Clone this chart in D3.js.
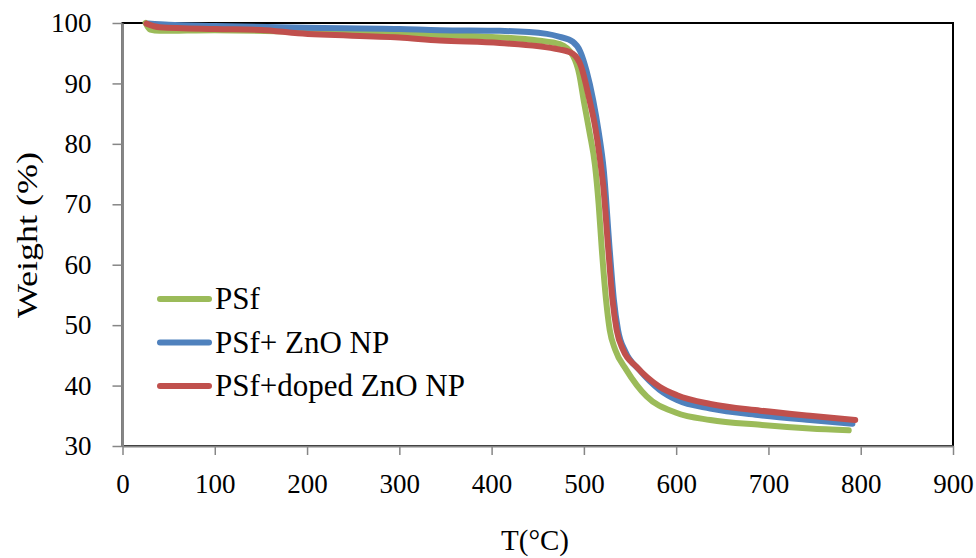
<!DOCTYPE html>
<html>
<head>
<meta charset="utf-8">
<script src="https://cdn.jsdelivr.net/npm/d3@7/dist/d3.min.js"></script>
<style>
  html, body { margin: 0; padding: 0; background: #fff; }
  svg { display: block; font-family: "Liberation Serif", "Times New Roman", serif; }
</style>
</head>
<body>
<svg id="chart" width="976" height="558"></svg>
<script>
// Thermogravimetric curves: temperature (°C) vs. remaining weight (%)
const xTicks = [0, 100, 200, 300, 400, 500, 600, 700, 800, 900];
const yTicks = [30, 40, 50, 60, 70, 80, 90, 100];

const seriesNames = ["PSf", "PSf+ ZnO NP", "PSf+doped ZnO NP"];

const psf = [
  [25, 100], [30, 98.9], [40, 98.7], [100, 98.8], [200, 98.5], [300, 98.2],
  [400, 97.7], [450, 97.1], [474, 96.5], [488, 94.6], [495, 91.5], [500, 87],
  [506, 82], [512, 76.5], [516, 70], [519.5, 62.4], [524, 54.2], [528, 49.2],
  [534, 45.9], [546, 42.6], [568, 38.2], [600, 35.5], [637, 34.3], [691, 33.5],
  [745, 32.9], [787, 32.6]
];

const psfZnO = [
  [28, 99.9], [50, 99.7], [100, 99.5], [200, 99.2], [300, 99.0], [344, 98.8],
  [409, 98.7], [460, 98.2], [474, 97.7], [488, 96.9], [496, 95.3], [503, 92],
  [510, 87.3], [516, 82], [521.5, 75.7], [528, 62.4], [532.5, 54.2], [537, 49.2],
  [545, 45.6], [560, 42.6], [582, 39.3], [601, 37.6], [637, 36.2], [691, 35.1],
  [745, 34.3], [791, 33.7]
];

const psfDoped = [
  [26, 99.9], [40, 99.3], [100, 99.0], [150, 98.85], [190, 98.3], [300, 97.6],
  [344, 97.1], [409, 96.7], [474, 95.6], [488, 94.9], [497, 92.8], [506, 87.3],
  [512, 83], [517, 78], [521, 73], [526.5, 62.4], [531, 54.2], [535.5, 49.2],
  [542.5, 45.9], [557, 43.1], [582, 39.8], [601, 38.4], [637, 36.95], [691, 35.85],
  [745, 35.0], [794, 34.3]
];

const seriesData = [psf, psfZnO, psfDoped];
const seriesColors = ["#9BBB59", "#4F81BD", "#C0504D"];

const svg = d3.select("#chart");
const plot = { left: 122.5, right: 953, top: 23, bottom: 446 };

const x = d3.scaleLinear().domain([0, 900]).range([plot.left, plot.right]);
const y = d3.scaleLinear().domain([30, 100]).range([plot.bottom, plot.top]);

const axisGray = "#868686";

// plot-area frame (top and right edges stay black)
svg.append("rect")
  .attr("x", plot.left).attr("y", plot.top)
  .attr("width", plot.right - plot.left).attr("height", plot.bottom - plot.top)
  .attr("fill", "none").attr("stroke", "#000").attr("stroke-width", 2);

// series lines
const line = d3.line()
  .x(d => x(d[0]))
  .y(d => y(d[1]))
  .curve(d3.curveMonotoneX);

svg.append("g").selectAll("path")
  .data(seriesData)
  .join("path")
  .attr("d", line)
  .attr("fill", "none")
  .attr("stroke", (d, i) => seriesColors[i])
  .attr("stroke-width", 6)
  .attr("stroke-linecap", "round")
  .attr("stroke-linejoin", "round");

// x axis
const xAxis = svg.append("g")
  .attr("transform", `translate(0,${plot.bottom})`)
  .call(d3.axisBottom(x).tickValues(xTicks).tickSize(9).tickPadding(19).tickSizeOuter(0));
xAxis.select(".domain").attr("stroke", axisGray).attr("stroke-width", 2);
xAxis.selectAll(".tick line").attr("stroke", axisGray).attr("stroke-width", 1.5);
xAxis.selectAll(".tick text")
  .attr("fill", "#000").attr("font-size", 27)
  .attr("font-family", "Liberation Serif, Times New Roman, serif");

// y axis
const yAxis = svg.append("g")
  .attr("transform", `translate(${plot.left},0)`)
  .call(d3.axisLeft(y).tickValues(yTicks).tickSize(10).tickPadding(21).tickSizeOuter(0));
yAxis.select(".domain").attr("stroke", axisGray).attr("stroke-width", 2);
yAxis.selectAll(".tick line").attr("stroke", axisGray).attr("stroke-width", 1.5);
yAxis.selectAll(".tick text")
  .attr("fill", "#000").attr("font-size", 27)
  .attr("font-family", "Liberation Serif, Times New Roman, serif");

// axis titles
svg.append("text")
  .attr("x", 535).attr("y", 550)
  .attr("text-anchor", "middle")
  .attr("font-size", 29)
  .text("T(°C)");

svg.append("text")
  .attr("transform", "translate(37,235) rotate(-90)")
  .attr("text-anchor", "middle")
  .attr("font-size", 29)
  .attr("textLength", 166)
  .attr("lengthAdjust", "spacingAndGlyphs")
  .text("Weight (%)");

// legend
const legend = svg.append("g");
const legendY = [299, 342.5, 386];
seriesNames.forEach((name, i) => {
  legend.append("line")
    .attr("x1", 160).attr("x2", 209)
    .attr("y1", legendY[i]).attr("y2", legendY[i])
    .attr("stroke", seriesColors[i]).attr("stroke-width", 6)
    .attr("stroke-linecap", "round");
  legend.append("text")
    .attr("x", 215).attr("y", legendY[i] + 10)
    .attr("font-size", 31)
    .text(name);
});
</script>
</body>
</html>
